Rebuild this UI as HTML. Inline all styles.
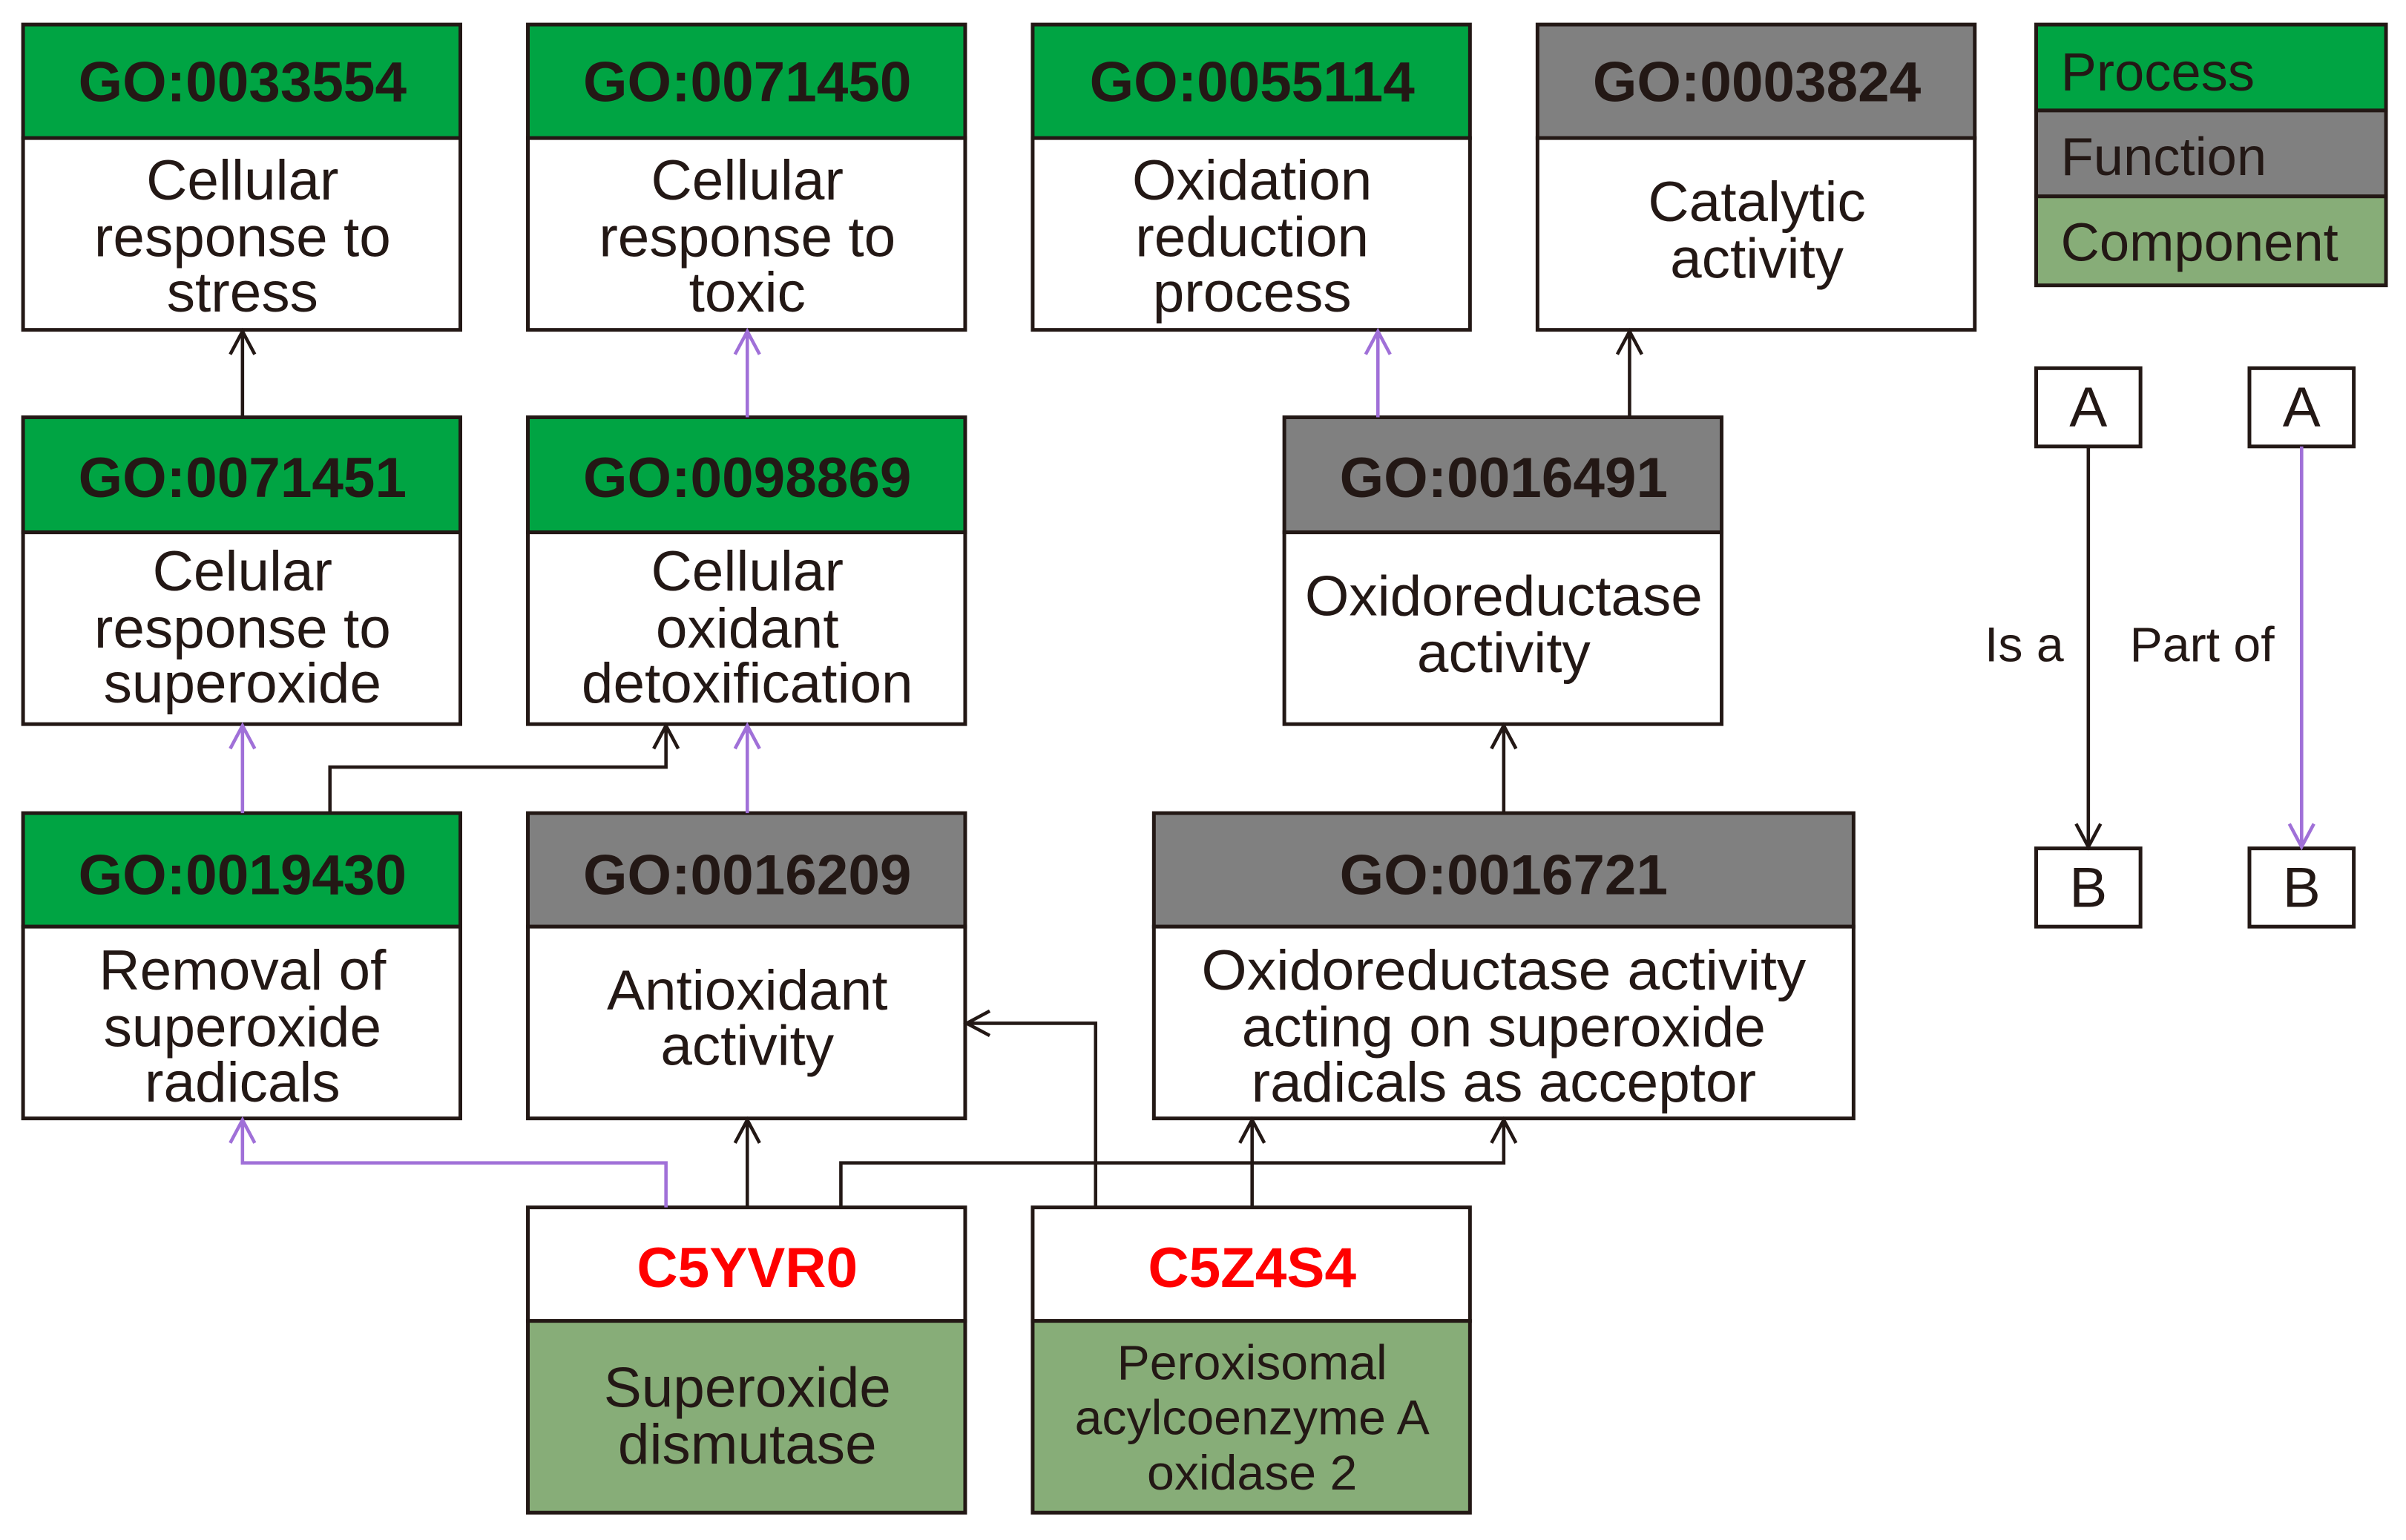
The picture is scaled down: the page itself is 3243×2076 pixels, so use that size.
<!DOCTYPE html>
<html><head><meta charset="utf-8"><style>
html,body{margin:0;padding:0;background:#fff;}
svg{display:block;}
text{font-family:"Liberation Sans",sans-serif;fill:#231815;}
.h{font-weight:bold;font-size:37px;}
.b{font-size:37px;}
.r{fill:#ff0000;font-weight:bold;font-size:37px;}
</style></head><body>
<svg width="3243" height="2076" viewBox="0 0 1568 1003.8" xmlns="http://www.w3.org/2000/svg">
<defs>
<marker id="ak" viewBox="0 0 20 20" refX="10" refY="1" markerWidth="20" markerHeight="20" markerUnits="userSpaceOnUse" orient="auto-start-reverse"></marker>
</defs>
<g stroke="#231815" stroke-width="2.4">
<!-- row1 -->
<rect x="15" y="16" width="285" height="74" fill="#00a443"/><rect x="15" y="90" width="285" height="125" fill="#fff"/>
<rect x="344" y="16" width="285" height="74" fill="#00a443"/><rect x="344" y="90" width="285" height="125" fill="#fff"/>
<rect x="673" y="16" width="285" height="74" fill="#00a443"/><rect x="673" y="90" width="285" height="125" fill="#fff"/>
<rect x="1002" y="16" width="285" height="74" fill="#808080"/><rect x="1002" y="90" width="285" height="125" fill="#fff"/>
<!-- row2 -->
<rect x="15" y="272" width="285" height="75" fill="#00a443"/><rect x="15" y="347" width="285" height="125" fill="#fff"/>
<rect x="344" y="272" width="285" height="75" fill="#00a443"/><rect x="344" y="347" width="285" height="125" fill="#fff"/>
<rect x="837" y="272" width="285" height="75" fill="#808080"/><rect x="837" y="347" width="285" height="125" fill="#fff"/>
<!-- row3 -->
<rect x="15" y="530" width="285" height="74" fill="#00a443"/><rect x="15" y="604" width="285" height="125" fill="#fff"/>
<rect x="344" y="530" width="285" height="74" fill="#808080"/><rect x="344" y="604" width="285" height="125" fill="#fff"/>
<rect x="752" y="530" width="456" height="74" fill="#808080"/><rect x="752" y="604" width="456" height="125" fill="#fff"/>
<!-- row4 -->
<rect x="344" y="787" width="285" height="74" fill="#fff"/><rect x="344" y="861" width="285" height="125" fill="#87ad78"/>
<rect x="673" y="787" width="285" height="74" fill="#fff"/><rect x="673" y="861" width="285" height="125" fill="#87ad78"/>
<!-- legend -->
<rect x="1327" y="16" width="228" height="56" fill="#00a443"/>
<rect x="1327" y="72" width="228" height="56" fill="#808080"/>
<rect x="1327" y="128" width="228" height="58" fill="#87ad78"/>
<rect x="1327" y="240" width="68" height="51" fill="#fff"/>
<rect x="1466" y="240" width="68" height="51" fill="#fff"/>
<rect x="1327" y="553" width="68" height="51" fill="#fff"/>
<rect x="1466" y="553" width="68" height="51" fill="#fff"/>
</g>
<!-- black connectors -->
<g stroke="#231815" stroke-width="2.2" fill="none">
<path d="M158 272V216 M150 231L158 216L166 231"/>
<path d="M1062 272V216 M1054 231L1062 216L1070 231"/>
<path d="M215 530V500H434V473 M426 488L434 473L442 488"/>
<path d="M980 530V473 M972 488L980 473L988 488"/>
<path d="M487 787V730 M479 745L487 730L495 745"/>
<path d="M548 787V758H980V730 M972 745L980 730L988 745"/>
<path d="M816 787V730 M808 745L816 730L824 745"/>
<path d="M714 787V667H630 M645 659L630 667L645 675"/>
<path d="M1361 291V552 M1353 537L1361 552L1369 537"/>
</g>
<!-- purple connectors -->
<g stroke="#a070d8" stroke-width="2.2" fill="none">
<path d="M487 272V216 M479 231L487 216L495 231"/>
<path d="M898 272V216 M890 231L898 216L906 231"/>
<path d="M158 530V473 M150 488L158 473L166 488"/>
<path d="M487 530V473 M479 488L487 473L495 488"/>
<path d="M434 787V758H158V730 M150 745L158 730L166 745"/>
<path d="M1500 291V552 M1492 537L1500 552L1508 537"/>
</g>
<g text-anchor="middle">
<text class="h" x="158" y="66">GO:0033554</text>
<text class="h" x="487" y="66">GO:0071450</text>
<text class="h" x="816" y="66">GO:0055114</text>
<text class="h" x="1145" y="66">GO:0003824</text>
<text class="h" x="158" y="324">GO:0071451</text>
<text class="h" x="487" y="324">GO:0098869</text>
<text class="h" x="980" y="324">GO:0016491</text>
<text class="h" x="158" y="583">GO:0019430</text>
<text class="h" x="487" y="583">GO:0016209</text>
<text class="h" x="980" y="583">GO:0016721</text>
<text class="r" x="487" y="839">C5YVR0</text>
<text class="r" x="816" y="839">C5Z4S4</text>

<text class="b" x="158" y="130">Cellular</text><text class="b" x="158" y="167">response to</text><text class="b" x="158" y="203">stress</text>
<text class="b" x="487" y="130">Cellular</text><text class="b" x="487" y="167">response to</text><text class="b" x="487" y="203">toxic</text>
<text class="b" x="816" y="130">Oxidation</text><text class="b" x="816" y="167">reduction</text><text class="b" x="816" y="203">process</text>
<text class="b" x="1145" y="144">Catalytic</text><text class="b" x="1145" y="181">activity</text>

<text class="b" x="158" y="385">Celular</text><text class="b" x="158" y="422">response to</text><text class="b" x="158" y="458">superoxide</text>
<text class="b" x="487" y="385">Cellular</text><text class="b" x="487" y="422">oxidant</text><text class="b" x="487" y="458">detoxification</text>
<text class="b" x="980" y="401">Oxidoreductase</text><text class="b" x="980" y="438">activity</text>

<text class="b" x="158" y="645">Removal of</text><text class="b" x="158" y="682">superoxide</text><text class="b" x="158" y="718">radicals</text>
<text class="b" x="487" y="658">Antioxidant</text><text class="b" x="487" y="694">activity</text>
<text class="b" x="980" y="645" textLength="394" lengthAdjust="spacingAndGlyphs">Oxidoreductase activity</text><text class="b" x="980" y="682">acting on superoxide</text><text class="b" x="980" y="718">radicals as acceptor</text>

<text class="b" x="487" y="917">Superoxide</text><text class="b" x="487" y="954">dismutase</text>
<text class="b" x="816" y="899" style="font-size:32px">Peroxisomal</text><text class="b" x="816" y="935" style="font-size:32px">acylcoenzyme A</text><text class="b" x="816" y="971" style="font-size:32px">oxidase 2</text>

<text class="b" x="1361" y="278">A</text><text class="b" x="1500" y="278">A</text>
<text class="b" x="1361" y="591">B</text><text class="b" x="1500" y="591">B</text>
</g>
<text class="b" x="1343" y="59" style="font-size:35px">Process</text>
<text class="b" x="1343" y="114" style="font-size:35px">Function</text>
<text class="b" x="1343" y="170" style="font-size:35px">Component</text>
<text class="b" x="1345" y="431" text-anchor="end" style="font-size:32px">Is a</text>
<text class="b" x="1388" y="431" style="font-size:32px">Part of</text>
</svg>
</body></html>
